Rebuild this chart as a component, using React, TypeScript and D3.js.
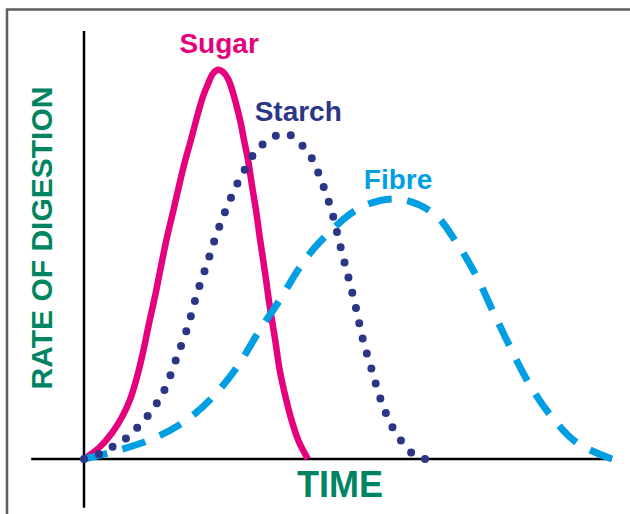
import React, { useRef, useEffect } from 'react';
import * as d3 from 'd3';

// values (time and rate in arbitrary 0-100 units)
const sugarTime = [
  0, 3.0, 5.3, 7.2, 8.7, 10.0, 11.2, 12.3, 13.5, 14.6, 15.7, 16.9, 18.0, 19.1, 20.3, 21.4, 22.5, 23.5, 24.4, 25.4,
  26.3, 27.3, 28.0, 28.8, 29.6, 30.3, 31.1, 31.8, 32.6, 33.3, 34.3, 35.2, 36.2, 37.1, 38.3, 39.4, 40.7, 42.4,
];
const sugarRate = [
  0, 3.0, 6.5, 10.5, 14.8, 20.3, 26.8, 33.8, 41.0, 48.3, 55.3, 62.0, 68.3, 74.3, 80.0, 85.5, 90.5, 93.8, 96.3, 97.3,
  96.8, 95.0, 92.5, 88.8, 84.5, 79.8, 74.5, 68.5, 62.0, 55.3, 46.5, 38.0, 29.8, 22.0, 14.8, 9.3, 4.3, 0,
];

const starchTime = [0, 3.0, 5.7, 8.3, 10.4, 12.5, 14.2, 15.5, 17.6, 19.7, 21.4, 23.3, 25.2, 27.5, 30.1, 33.5, 38.3, 42.6, 45.1, 47.0, 48.5, 50.0, 51.5, 52.8, 54.5, 56.3, 58.7, 62.5, 64.6];
const starchRate = [0, 1.3, 3.3, 5.5, 8.3, 11.5, 14.8, 18.0, 25.5, 33.3, 41.3, 48.8, 56.5, 64.3, 71.5, 78.3, 81.3, 76.3, 69.0, 61.5, 53.5, 45.8, 37.8, 30.0, 22.3, 14.5, 7.3, 1.0, 0];

const fibreTime = [0, 6.8, 13.8, 19.5, 24.4, 29.0, 33.3, 37.1, 40.9, 44.7, 52.3, 59.3, 66.1, 70.6, 74.4, 77.5, 80.7, 84.1, 88.3, 93.4, 100];
const fibreRate = [0, 2.3, 5.5, 9.8, 15.5, 23.0, 32.3, 39.8, 48.0, 54.3, 62.8, 65.0, 61.5, 54.0, 45.5, 36.8, 28.0, 19.3, 11.0, 4.0, 0];

const seriesNames = ['Sugar', 'Starch', 'Fibre'];
const xTitle = 'TIME';
const yTitle = 'RATE OF DIGESTION';

type Pt = { t: number; r: number };

function App() {
  const svgRef = useRef<SVGSVGElement | null>(null);

  useEffect(() => {
    const svg = d3.select(svgRef.current);
    svg.selectAll('*').remove();

    const x = d3.scaleLinear().domain([0, 100]).range([84, 612]);
    const y = d3.scaleLinear().domain([0, 100]).range([459, 59]);

    const line = d3
      .line<Pt>()
      .x((d) => x(d.t))
      .y((d) => y(d.r))
      .curve(d3.curveCatmullRom.alpha(0.5));

    const toPts = (ts: number[], rs: number[]) => ts.map((t, i) => ({ t, r: rs[i] }));
    const sugar = toPts(sugarTime, sugarRate);
    const starch = toPts(starchTime, starchRate);
    const fibre = toPts(fibreTime, fibreRate);

    // outer frame
    svg
      .append('rect')
      .attr('x', 7)
      .attr('y', 9.5)
      .attr('width', 700)
      .attr('height', 600)
      .attr('fill', 'none')
      .attr('stroke', '#5e5e5e')
      .attr('stroke-width', 2.5);

    // axes, plain lines crossing at the origin
    svg
      .append('line')
      .attr('x1', x(-10))
      .attr('x2', x(100))
      .attr('y1', y(0))
      .attr('y2', y(0))
      .attr('stroke', '#000')
      .attr('stroke-width', 2.5);
    svg
      .append('line')
      .attr('x1', x(0))
      .attr('x2', x(0))
      .attr('y1', y(-12.2))
      .attr('y2', y(107))
      .attr('stroke', '#000')
      .attr('stroke-width', 2.5);

    svg
      .append('path')
      .attr('d', line(sugar))
      .attr('fill', 'none')
      .attr('stroke', '#e5007d')
      .attr('stroke-width', 6.5);

    const fibrePath = svg
      .append('path')
      .attr('d', line(fibre))
      .attr('fill', 'none')
      .attr('stroke', '#009fe3')
      .attr('stroke-width', 7);
    // stretch the gaps a little so a dash sits on both ends
    const fl = (fibrePath.node() as SVGPathElement).getTotalLength();
    const dash = 24;
    const nGaps = Math.round((fl - dash) / 39);
    fibrePath.attr('stroke-dasharray', `${dash},${(fl - dash * (nGaps + 1)) / nGaps}`);

    const starchPath = svg
      .append('path')
      .attr('d', line(starch))
      .attr('fill', 'none')
      .attr('stroke', '#2b3686')
      .attr('stroke-width', 8)
      .attr('stroke-linecap', 'round');
    // same for the dots: one at the origin and one at the end
    const sl = (starchPath.node() as SVGPathElement).getTotalLength();
    starchPath.attr('stroke-dasharray', `0,${(sl - 0.5) / Math.round(sl / 15.6)}`);

    const font = "'Liberation Sans', Arial, sans-serif";
    const peakOf = (pts: Pt[]) => pts[d3.maxIndex(pts, (d) => d.r)];
    const labels = [
      { p: peakOf(sugar), color: '#e5007d', dx: 1, dy: -17 },
      { p: peakOf(starch), color: '#2b3686', dx: 12, dy: -13 },
      { p: peakOf(fibre), color: '#009fe3', dx: 1, dy: -10 },
    ];
    labels.forEach((k, i) => {
      svg
        .append('text')
        .attr('x', x(k.p.t) + k.dx)
        .attr('y', y(k.p.r) + k.dy)
        .attr('text-anchor', 'middle')
        .attr('font-family', font)
        .attr('font-weight', 'bold')
        .attr('font-size', 28)
        .attr('fill', k.color)
        .text(seriesNames[i]);
    });

    svg
      .append('text')
      .attr('x', 340)
      .attr('y', 497)
      .attr('text-anchor', 'middle')
      .attr('font-family', font)
      .attr('font-weight', 'bold')
      .attr('font-size', 36)
      .attr('fill', '#008462')
      .text(xTitle);

    svg
      .append('text')
      .attr('transform', 'translate(52,238) rotate(-90)')
      .attr('text-anchor', 'middle')
      .attr('font-family', font)
      .attr('font-weight', 'bold')
      .attr('font-size', 30)
      .attr('fill', '#008462')
      .text(yTitle);
  }, []);

  return (
    <svg
      ref={svgRef}
      width={630}
      height={514}
      style={{ position: 'absolute', left: 0, top: 0, background: '#fff' }}
    />
  );
}

export default App;
